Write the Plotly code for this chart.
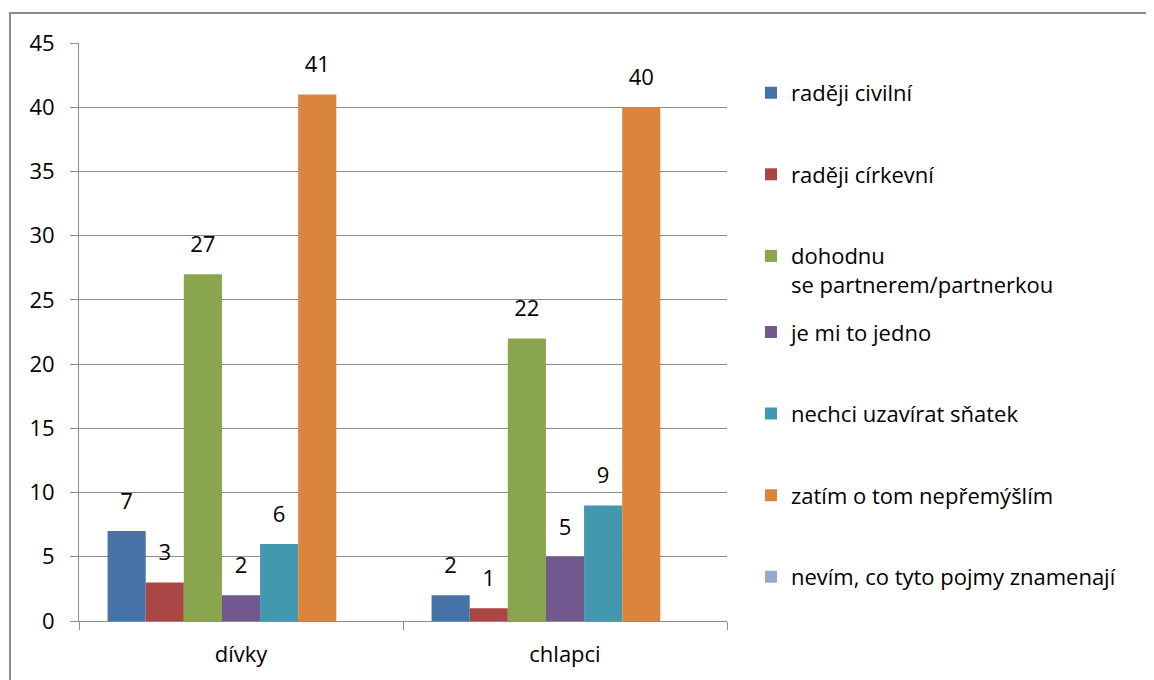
import plotly.graph_objects as go

categories = ["dívky", "chlapci"]
series_names = [
    "raději civilní",
    "raději církevní",
    "dohodnu<br>se partnerem/partnerkou",
    "je mi to jedno",
    "nechci uzavírat sňatek",
    "zatím o tom nepřemýšlím",
    "nevím, co tyto pojmy znamenají",
]
civilni = [7, 2]
cirkevni = [3, 1]
dohodnu = [27, 22]
jedno = [2, 5]
nechci = [6, 9]
zatim = [41, 40]
nevim = [0, 0]
values = [civilni, cirkevni, dohodnu, jedno, nechci, zatim, nevim]
colors = ["#4572A7", "#AA4643", "#89A54E", "#71588F", "#4198AF", "#DB843D", "#93A9CF"]

font = "'Open Sans', 'Noto Sans', sans-serif"
gap = 1.5 / 8.5

fig = go.Figure()
for i, (name, vals, col) in enumerate(zip(series_names, values, colors)):
    fig.add_trace(go.Bar(
        x=categories, y=vals, name=name, marker=dict(color=col, line=dict(width=0)),
        offsetgroup=str(i), legend="legend" if i < 3 else "legend2",
        legendgroup=str(i), hoverinfo="skip",
    ))
# value labels, grouped the same way as the bars
for i, vals in enumerate(values):
    labels = [str(v) if v > 0 else "" for v in vals]
    fig.add_trace(go.Scatter(
        x=categories, y=vals, text=labels, mode="markers+text",
        textposition="top center", offsetgroup=str(i),
        marker=dict(size=25, color="rgba(0,0,0,0)"),
        textfont=dict(family=font, size=22, color="#000000"),
        showlegend=False, hoverinfo="skip", cliponaxis=False,
    ))

# page body has an 8px margin, so the figure is 8px smaller each way
fig.update_layout(
    width=1146, height=672,
    margin=dict(l=71, r=427, t=35, b=59, autoexpand=False),
    paper_bgcolor="white", plot_bgcolor="white",
    barmode="group", bargap=gap, bargroupgap=0,
    scattermode="group", scattergap=gap,
    font=dict(family=font, size=22, color="#000000"),
    legend=dict(x=1.037, xanchor="left", y=0.95, yanchor="top",
                tracegroupgap=50, valign="top", bgcolor="rgba(0,0,0,0)",
                font=dict(size=22)),
    legend2=dict(x=1.037, xanchor="left", y=0.536, yanchor="top",
                 tracegroupgap=50, valign="top", bgcolor="rgba(0,0,0,0)",
                 font=dict(size=22)),
    showlegend=True,
)
fig.update_yaxes(
    range=[0, 45], dtick=5, showgrid=True, gridcolor="#8C8C8C", gridwidth=1,
    showline=True, linecolor="#8C8C8C", linewidth=1, zeroline=False,
    ticks="outside", ticklen=8, tickcolor="#8C8C8C", ticklabelstandoff=11,
)
fig.update_xaxes(
    showline=True, linecolor="#8C8C8C", linewidth=1, showgrid=False,
    ticks="outside", ticklen=8, tickcolor="#8C8C8C", tickson="boundaries",
    ticklabelstandoff=14,
)
# chart frame
fig.add_shape(type="rect", xref="paper", yref="paper",
              x0=-0.1065, x1=1.8, y0=-0.3, y1=1.052,
              line=dict(color="#8C8C8C", width=2), layer="below")

fig.write_html("out.html")
